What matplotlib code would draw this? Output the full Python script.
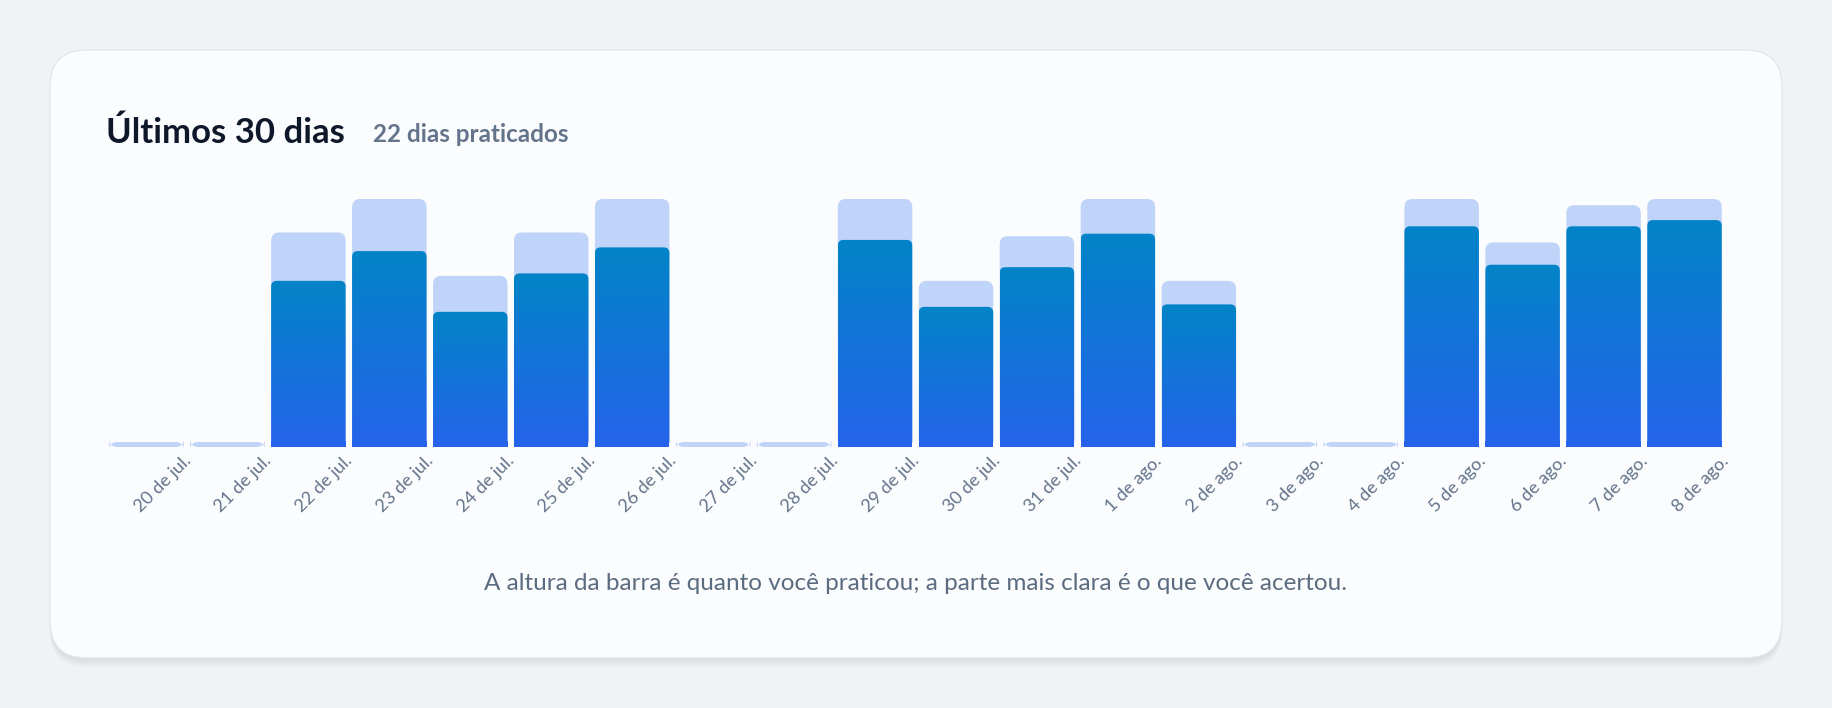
import matplotlib
matplotlib.use("Agg")
import matplotlib.pyplot as plt
import numpy as np
from matplotlib.patches import FancyBboxPatch
from matplotlib.colors import LinearSegmentedColormap
import matplotlib.transforms as mt

plt.rcParams['font.family'] = ['Lato', 'DejaVu Sans']

labels = ["20 de jul.", "21 de jul.", "22 de jul.", "23 de jul.", "24 de jul.", "25 de jul.",
          "26 de jul.", "27 de jul.", "28 de jul.", "29 de jul.", "30 de jul.", "31 de jul.",
          "1 de ago.", "2 de ago.", "3 de ago.", "4 de ago.", "5 de ago.", "6 de ago.",
          "7 de ago.", "8 de ago."]
practiced = [0, 0, 17.3, 20, 13.8, 17.3, 20, 0, 0, 20, 13.4, 17.0, 20, 13.4, 0, 0, 20, 16.5, 19.5, 20]
correct = [0, 0, 13.4, 15.8, 10.9, 14.0, 16.1, 0, 0, 16.7, 11.3, 14.5, 17.2, 11.5, 0, 0, 17.8, 14.7, 17.8, 18.3]

W, H = 1832, 708
fig = plt.figure(figsize=(W/100, H/100), dpi=100)
fig.patch.set_facecolor("#f1f2f4")

for i in range(12, 0, -1):
    fig.patches.append(FancyBboxPatch((50/W, (708-658-i*0.8)/H), 1732/W, (608+i*0.3)/H,
        boxstyle="round,pad=0,rounding_size=0.02", transform=fig.transFigure,
        facecolor="#000000", alpha=0.008, edgecolor="none", mutation_aspect=W/H))
fig.patches.append(FancyBboxPatch((50/W, 50/H), 1732/W, 608/H,
    boxstyle="round,pad=0,rounding_size=0.02", transform=fig.transFigure,
    facecolor="#fbfcfd", edgecolor="#e4e6ea", linewidth=1, mutation_aspect=W/H))

fig.text(106/W, 1-133/H, "Últimos 30 dias", fontsize=25, fontweight="bold", color="#0f172a", va="center")
fig.text(373/W, 1-135/H, "22 dias praticados", fontsize=17.5, fontweight="bold", color="#64748b", va="center")
fig.text(916/W, 1-584/H, "A altura da barra é quanto você praticou; a parte mais clara é o que você acertou.",
         fontsize=17.5, color="#5b6b80", ha="center", va="center")

ax = fig.add_axes([106/W, 1-447/H, 1619/W, 248/H])
ax.set_zorder(5)
ax.set_facecolor("none")
n = len(labels)
for s in ax.spines.values():
    s.set_visible(False)
ax.tick_params(length=0, pad=4)
ax.set_yticks([])
ax.set_xticks(range(n))
ax.set_xticklabels(labels, rotation=45, ha="right", va="top", rotation_mode="anchor",
                   fontsize=13, color="#64748b")
off = mt.ScaledTranslation(36/100, 0, fig.dpi_scale_trans)
for t in ax.get_xticklabels():
    t.set_transform(t.get_transform() + off)

cmap = LinearSegmentedColormap.from_list("g", ["#2563eb", "#0284c7"])
grad = np.linspace(0, 1, 256).reshape(-1, 1)
bw = 0.92
asp = (20/248)/(n/1619)
for i in range(n):
    p = practiced[i] if practiced[i] > 0 else 0.4
    ax.add_patch(FancyBboxPatch((i-bw/2, 0), bw, p, boxstyle="round,pad=0,rounding_size=0.1",
                                mutation_aspect=asp, facecolor="#c0d3f8", edgecolor="none", zorder=1))
    if correct[i] > 0:
        dark = FancyBboxPatch((i-bw/2, 0), bw, correct[i], boxstyle="round,pad=0,rounding_size=0.07",
                              mutation_aspect=asp, facecolor="none", edgecolor="none", zorder=2)
        ax.add_patch(dark)
        im = ax.imshow(grad, cmap=cmap, aspect="auto", origin="lower",
                       extent=(i-bw/2, i+bw/2, 0, correct[i]), zorder=2)
        im.set_clip_path(dark)
        ax.add_patch(FancyBboxPatch((i-bw/2, 0), bw, 0.5, boxstyle="square,pad=0",
                                    facecolor="#2563eb", edgecolor="none", zorder=3))
ax.set_xlim(-0.5, n-0.5)
ax.set_ylim(0, 20)

fig.savefig("out.png", dpi=100, facecolor=fig.get_facecolor())
